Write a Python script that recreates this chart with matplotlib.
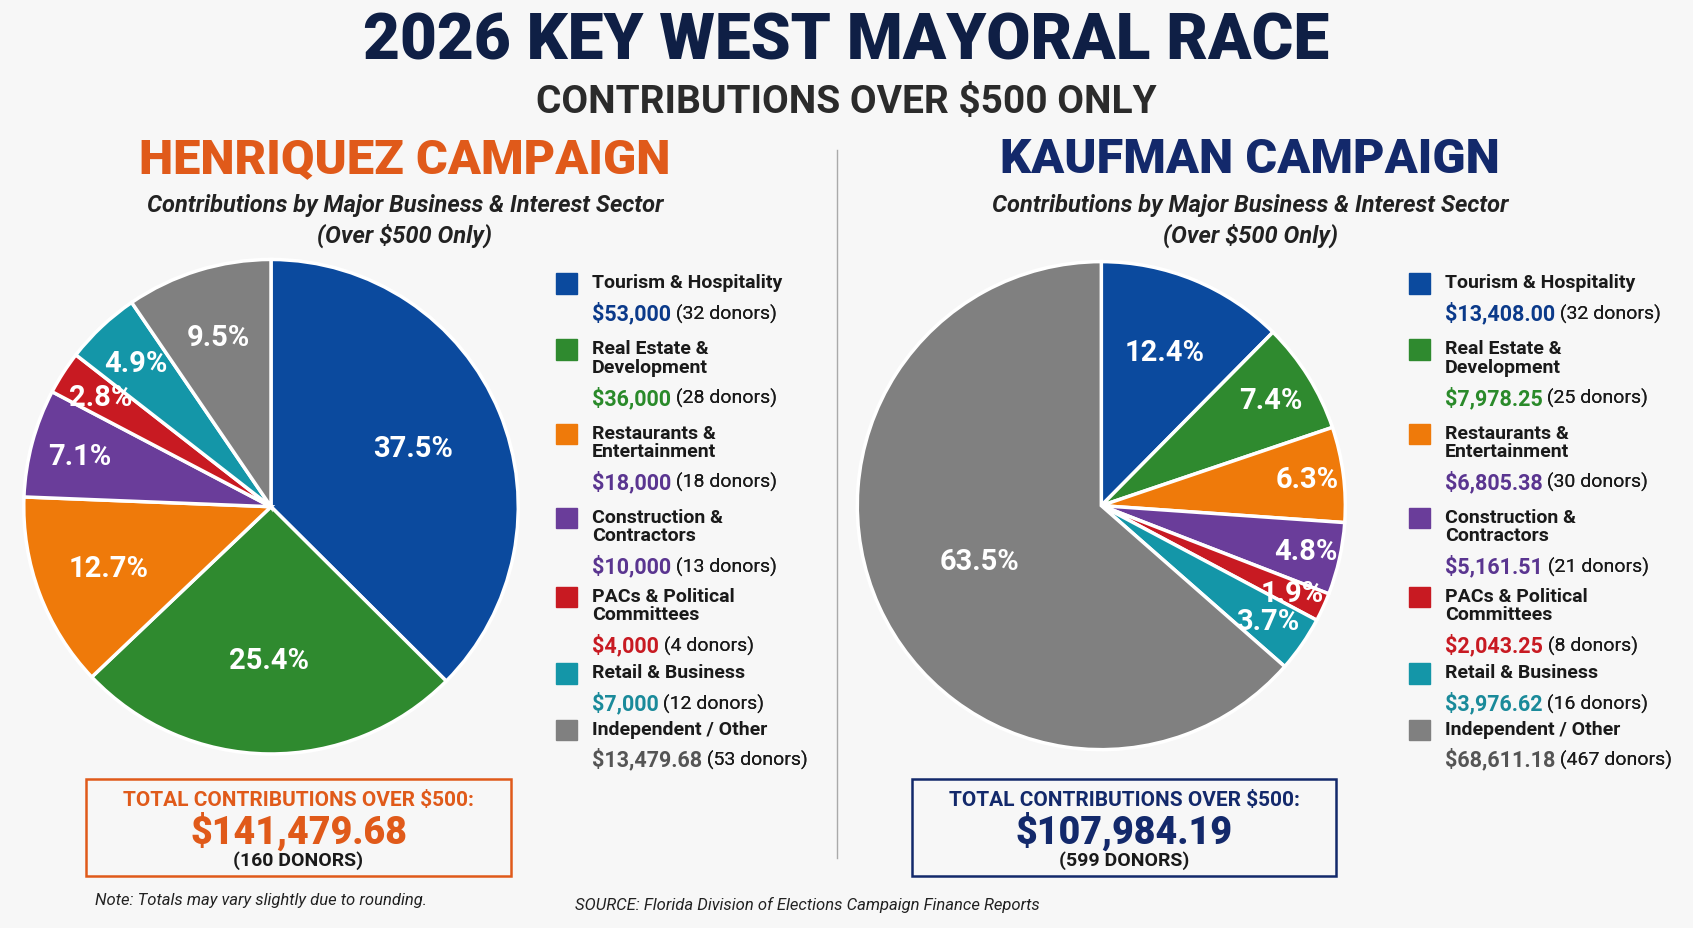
import numpy as np
import matplotlib.pyplot as plt
from matplotlib.patches import Rectangle

plt.rcParams['font.family'] = ['Roboto', 'DejaVu Sans']

# data
sectors = ["Tourism & Hospitality", "Real Estate &\nDevelopment", "Restaurants &\nEntertainment",
           "Construction &\nContractors", "PACs & Political\nCommittees", "Retail & Business",
           "Independent / Other"]
colors = ["#0b4a9e", "#2f8a2f", "#ef7a0a", "#6a3d9a", "#c81a22", "#1496a8", "#808080"]
valColors = ["#0b3a8a", "#2a8a2a", "#5a3590", "#5a3590", "#c81a22", "#1a8a9a", "#555555"]

henVals = [53000, 36000, 18000, 10000, 4000, 7000, 13479.68]
henStr = ["$53,000", "$36,000", "$18,000", "$10,000", "$4,000", "$7,000", "$13,479.68"]
henDonors = [32, 28, 18, 13, 4, 12, 53]
henPct = ["37.5%", "25.4%", "12.7%", "7.1%", "2.8%", "4.9%", "9.5%"]

kauVals = [13408.00, 7978.25, 6805.38, 5161.51, 2043.25, 3976.62, 68611.18]
kauStr = ["$13,408.00", "$7,978.25", "$6,805.38", "$5,161.51", "$2,043.25", "$3,976.62", "$68,611.18"]
kauDonors = [32, 25, 30, 21, 8, 16, 467]
kauPct = ["12.4%", "7.4%", "6.3%", "4.8%", "1.9%", "3.7%", "63.5%"]

W, H = 1568.0, 860.0
fig = plt.figure(figsize=(16.93, 9.29), dpi=100)
fig.patch.set_facecolor("#f7f7f7")

def fx(x): return x / W
def fy(y): return 1 - y / H

fig.text(0.5, fy(38), "2026 KEY WEST MAYORAL RACE", ha="center", va="center",
         fontsize=46, fontweight="black", color="#0f1f45")
fig.text(0.5, fy(95), "CONTRIBUTIONS OVER $500 ONLY", ha="center", va="center",
         fontsize=28, fontweight="bold", color="#2b2b2b")

fig.add_artist(plt.Line2D([fx(775), fx(775)], [fy(140), fy(795)], color="#aaaaaa", lw=1))

def header(cx, title, tcolor):
    fig.text(fx(cx), fy(148), title, ha="center", va="center", fontsize=35,
             fontweight="black", color=tcolor)
    fig.text(fx(cx), fy(190), "Contributions by Major Business & Interest Sector", ha="center",
             va="center", fontsize=17, fontstyle="italic", fontweight="bold", color="#222222")
    fig.text(fx(cx), fy(218), "(Over $500 Only)", ha="center", va="center",
             fontsize=17, fontstyle="italic", fontweight="bold", color="#222222")

def pie(pcx, pcy, r, vals, pcts, pctdist):
    ax = fig.add_axes([fx(pcx - r), fy(pcy + r), 2 * r / W, 2 * r / H])
    ax.pie(vals, colors=colors, startangle=90, counterclock=False,
           wedgeprops=dict(edgecolor="white", linewidth=2.5))
    tot = sum(vals)
    ang = 90.0
    for v, p, d in zip(vals, pcts, pctdist):
        a = ang - 360 * v / tot / 2
        ang -= 360 * v / tot
        ax.text(d * np.cos(np.radians(a)), d * np.sin(np.radians(a)), p, ha="center",
                va="center", color="white", fontsize=21, fontweight="bold")
    ax.set_aspect("equal")
    ax.set_xlim(-1, 1)
    ax.set_ylim(-1, 1)

def legend(sx, strs, donors):
    rows = [264, 325, 403, 481, 554, 625, 677]
    for i, y in enumerate(rows):
        fig.add_artist(Rectangle((fx(sx), fy(y + 9)), 19 / W, 19 / H, color=colors[i],
                                 transform=fig.transFigure))
        nl = sectors[i].count("\n")
        fig.text(fx(sx + 33), fy(y - 10), sectors[i], ha="left", va="top", fontsize=14,
                 fontweight="bold", color="#1a1a1a", linespacing=1.05)
        vy = y + 27 + nl * 17
        t = fig.text(fx(sx + 33), fy(vy), strs[i], ha="left", va="center", fontsize=15.5,
                     fontweight="bold", color=valColors[i])
        an = plt.annotate(" (%d donors)" % donors[i], xy=(1, 0.5), xycoords=t, va="center",
                          ha="left", fontsize=14, color="#1a1a1a")
        fig.add_artist(an)

def totalbox(x0, x1, ecolor, total, ndon):
    fig.add_artist(Rectangle((fx(x0), fy(812)), (x1 - x0) / W, 90 / H, fill=False,
                             edgecolor=ecolor, lw=1.8, transform=fig.transFigure))
    cx = fx((x0 + x1) / 2)
    fig.text(cx, fy(741), "TOTAL CONTRIBUTIONS OVER $500:", ha="center", va="center",
             fontsize=15, fontweight="bold", color=ecolor)
    fig.text(cx, fy(770), total, ha="center", va="center", fontsize=27,
             fontweight="black", color=ecolor)
    fig.text(cx, fy(797), ndon, ha="center", va="center", fontsize=14,
             fontweight="bold", color="#1a1a1a")

header(375, "HENRIQUEZ CAMPAIGN", "#e05a1a")
header(1158, "KAUFMAN CAMPAIGN", "#13296b")

pie(251, 470, 229, henVals, henPct, [0.62, 0.62, 0.7, 0.8, 0.82, 0.8, 0.72])
pie(1020, 469, 226, kauVals, kauPct, [0.68, 0.82, 0.85, 0.86, 0.86, 0.83, 0.55])

legend(515, henStr, henDonors)
legend(1305, kauStr, kauDonors)

totalbox(80, 473, "#e05a1a", "$141,479.68", "(160 DONORS)")
totalbox(845, 1237, "#13296b", "$107,984.19", "(599 DONORS)")

fig.text(fx(88), fy(834), "Note: Totals may vary slightly due to rounding.", ha="left",
         va="center", fontsize=12, fontstyle="italic", color="#222222")
fig.text(fx(533), fy(838), "SOURCE: Florida Division of Elections Campaign Finance Reports",
         ha="left", va="center", fontsize=12, fontstyle="italic", color="#222222")

fig.savefig("out.png", dpi=100, facecolor=fig.get_facecolor())
